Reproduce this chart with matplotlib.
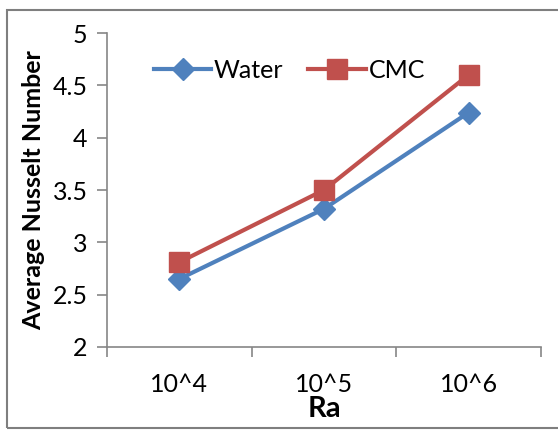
import matplotlib.pyplot as plt
from matplotlib.patches import Rectangle

# Average Nusselt number vs Rayleigh number
categories = ['10^4', '10^5', '10^6']
water = [2.65, 3.32, 4.24]
cmc = [2.81, 3.50, 4.60]

plt.rcParams['font.family'] = ['Lato', 'DejaVu Sans']

fig = plt.figure(figsize=(5.58, 4.30), dpi=100)
ax = fig.add_axes([107 / 558, 83 / 430, 434 / 558, 314 / 430])

x = list(range(len(categories)))
ax.plot(x, water, color='#4F81BD', lw=3.0, marker='D', ms=11,
        mec='#4F81BD', label='Water')
ax.plot(x, cmc, color='#C0504D', lw=3.0, marker='s', ms=14,
        mec='#C0504D', label='CMC')

ax.set_xlim(-0.5, 2.5)
ax.set_ylim(2, 5)
ax.set_yticks([2, 2.5, 3, 3.5, 4, 4.5, 5])
ax.set_yticklabels(['2', '2.5', '3', '3.5', '4', '4.5', '5'])
ax.set_xticks(x)
ax.set_xticklabels(categories)
ax.set_xticks([-0.5, 0.5, 1.5, 2.5], minor=True)
ax.tick_params(axis='x', which='major', length=0, pad=19, labelsize=18)
ax.tick_params(axis='x', which='minor', length=7, width=1.2, color='#868686')
ax.tick_params(axis='y', length=7, width=1.2, color='#868686', pad=7,
               labelsize=18)

for side in ('top', 'right'):
    ax.spines[side].set_visible(False)
for side in ('left', 'bottom'):
    ax.spines[side].set_color('#868686')
    ax.spines[side].set_linewidth(1.2)

ax.set_ylabel('Average Nusselt Number', fontsize=18, fontweight='bold',
              labelpad=5)
ax.set_xlabel('Ra', fontsize=21, fontweight='bold', labelpad=0)

ax.legend(loc='center left', bbox_to_anchor=(0.085, 0.88), ncol=2,
          frameon=False, fontsize=18, handlelength=2.3, handletextpad=0.1,
          columnspacing=1.0, borderaxespad=0)

# chart frame
fig.patches.append(Rectangle((7 / 558, 2 / 430), 1.0, 418 / 430,
                             transform=fig.transFigure, fill=False,
                             edgecolor='#7F7F7F', lw=1.5))

fig.savefig('out.png', dpi=100)
